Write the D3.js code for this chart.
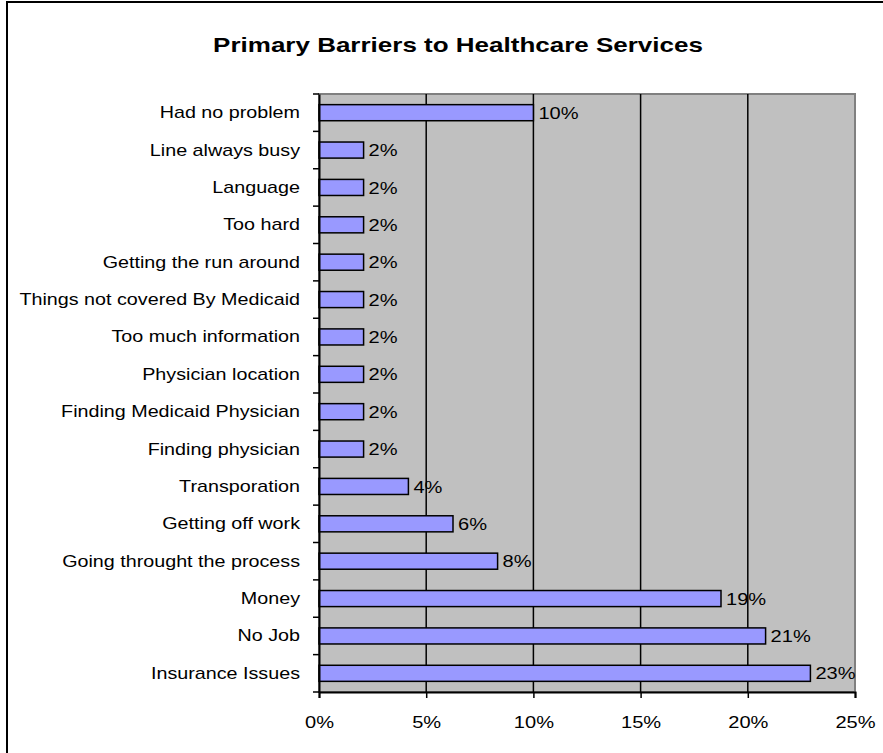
<!DOCTYPE html>
<html>
<head>
<meta charset="utf-8">
<script src="https://cdn.jsdelivr.net/npm/d3@7"></script>
<style>
  html, body { margin: 0; padding: 0; background: #fff; }
  svg { display: block; font-family: "Liberation Sans", Arial, sans-serif; }
</style>
</head>
<body>
<svg id="chart" width="883" height="753"></svg>
<script>
// Survey answers, top to bottom as listed on the chart
const categories = [
  "Had no problem",
  "Line always busy",
  "Language",
  "Too hard",
  "Getting the run around",
  "Things not covered By Medicaid",
  "Too much information",
  "Physician location",
  "Finding Medicaid Physician",
  "Finding physician",
  "Transporation",
  "Getting off work",
  "Going throught the process",
  "Money",
  "No Job",
  "Insurance Issues"
];
// Share of respondents naming each barrier (fraction)
const shares = [
  0.100, 0.0208, 0.0208, 0.0208, 0.0208, 0.0208, 0.0208, 0.0208,
  0.0208, 0.0208, 0.0417, 0.0625, 0.0833, 0.1875, 0.2083, 0.2292
];
const xTicks = [0, 0.05, 0.10, 0.15, 0.20, 0.25];
const title = "Primary Barriers to Healthcare Services";

const svg = d3.select("#chart");
const plot = { left: 319, right: 855, top: 94, bottom: 692 };
const labelSize = 17, labelStretch = 1.18, categoryStretch = 1.16;

// Outer chart frame (runs off the right and bottom edges)
svg.append("rect")
  .attr("x", 7).attr("y", 2)
  .attr("width", 900).attr("height", 800)
  .attr("fill", "#fff").attr("stroke", "#000").attr("stroke-width", 2);

const x = d3.scaleLinear().domain([0, 0.25]).range([plot.left, plot.right]);
const y = d3.scaleBand().domain(categories).range([plot.top, plot.bottom]).paddingInner(0.57).paddingOuter(0.285);

// Plot background
svg.append("rect")
  .attr("x", plot.left).attr("y", plot.top)
  .attr("width", plot.right - plot.left).attr("height", plot.bottom - plot.top)
  .attr("fill", "#c0c0c0").attr("stroke", "#808080").attr("stroke-width", 2);

// Vertical gridlines
svg.append("g").selectAll("line")
  .data(xTicks.slice(1, -1))
  .join("line")
  .attr("x1", d => x(d)).attr("x2", d => x(d))
  .attr("y1", plot.top).attr("y2", plot.bottom)
  .attr("stroke", "#000").attr("stroke-width", 1.5);

// Bars
svg.append("g").selectAll("rect")
  .data(categories)
  .join("rect")
  .attr("x", x(0))
  .attr("y", d => y(d))
  .attr("width", (d, i) => x(shares[i]) - x(0))
  .attr("height", y.bandwidth())
  .attr("fill", "#9999ff")
  .attr("stroke", "#000").attr("stroke-width", 1.5);

// Value labels
const pct = d3.format(".0%");
svg.append("g").selectAll("text")
  .data(categories)
  .join("text")
  .attr("transform", (d, i) => `translate(${x(shares[i]) + 5},${y(d) + y.bandwidth() / 2}) scale(${labelStretch},1)`)
  .attr("dy", "0.36em")
  .attr("font-size", labelSize)
  .attr("fill", "#000")
  .text((d, i) => pct(shares[i]));

// Category axis
const yAxisBand = d3.scaleBand().domain(categories).range([plot.top, plot.bottom]);
const yAxis = svg.append("g").attr("transform", `translate(${plot.left},0)`)
  .call(d3.axisLeft(yAxisBand).tickSize(0));
yAxis.select(".domain").attr("stroke", "#000").attr("stroke-width", 2);
yAxis.selectAll("text")
  .attr("x", 0)
  .attr("transform", `translate(-19,0) scale(${categoryStretch},1)`)
  .attr("font-size", labelSize).attr("fill", "#000")
  .attr("font-family", "Liberation Sans, Arial, sans-serif");
// Tick marks sit between categories
yAxis.append("g").selectAll("line")
  .data(d3.range(categories.length + 1))
  .join("line")
  .attr("x1", -6).attr("x2", 0)
  .attr("y1", i => plot.top + i * yAxisBand.step())
  .attr("y2", i => plot.top + i * yAxisBand.step())
  .attr("stroke", "#000").attr("stroke-width", 1.5);

// Value axis
const xAxis = svg.append("g").attr("transform", `translate(0,${plot.bottom})`)
  .call(d3.axisBottom(x).tickValues(xTicks).tickFormat(pct).tickSize(6));
xAxis.select(".domain").attr("stroke", "#000").attr("stroke-width", 2);
xAxis.selectAll(".tick line").attr("stroke", "#000").attr("stroke-width", 1.5);
xAxis.selectAll("text")
  .attr("y", 0)
  .attr("transform", `translate(0,24) scale(${labelStretch},1)`)
  .attr("dy", "0.71em")
  .attr("font-size", labelSize).attr("fill", "#000")
  .attr("font-family", "Liberation Sans, Arial, sans-serif");

// Title
svg.append("text")
  .attr("transform", `translate(458,52) scale(1.3,1)`)
  .attr("text-anchor", "middle")
  .attr("font-size", 20).attr("font-weight", "bold")
  .text(title);
</script>
</body>
</html>
